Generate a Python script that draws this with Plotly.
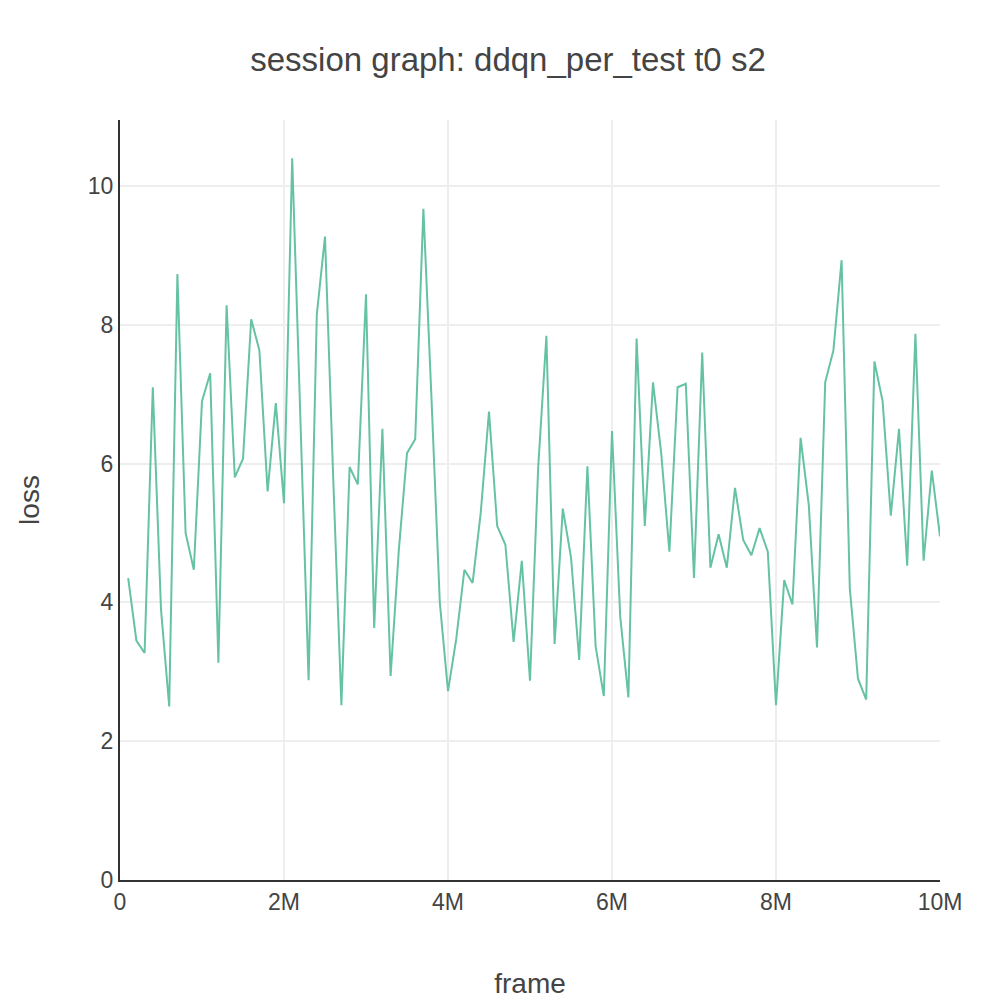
import plotly.graph_objects as go

frames = [i * 100000 for i in range(1, 101)]
loss = [4.35, 3.45, 3.27, 7.1, 3.9, 2.5, 8.73, 5.0, 4.47, 6.9,
        7.3, 3.13, 8.28, 5.8, 6.07, 8.08, 7.63, 5.6, 6.87, 5.43,
        10.4, 6.6, 2.88, 8.15, 9.27, 5.8, 2.52, 5.95, 5.7, 8.44,
        3.63, 6.5, 2.94, 4.75, 6.15, 6.35, 9.67, 6.9, 4.0, 2.72,
        3.47, 4.47, 4.28, 5.3, 6.75, 5.1, 4.83, 3.43, 4.6, 2.87,
        5.95, 7.84, 3.4, 5.35, 4.65, 3.17, 5.96, 3.37, 2.65, 6.47,
        3.8, 2.63, 7.8, 5.1, 7.17, 6.15, 4.73, 7.1, 7.15, 4.35,
        7.6, 4.5, 4.98, 4.5, 5.65, 4.9, 4.68, 5.07, 4.73, 2.52,
        4.32, 3.97, 6.37, 5.4, 3.35, 7.17, 7.63, 8.93, 4.2, 2.9,
        2.6, 7.47, 6.9, 5.25, 6.5, 4.53, 7.87, 4.6, 5.9, 4.95]

fig = go.Figure()
fig.add_trace(go.Scatter(x=frames, y=loss, mode="lines",
                         line=dict(color="#66c2a5", width=2)))
fig.update_layout(
    title=dict(text="session graph: ddqn_per_test t0 s2", x=0.5, y=0.96,
               xanchor="center", font=dict(size=33, color="#444")),
    font=dict(family="Liberation Sans, Arial", size=23, color="#444"),
    width=1000, height=1000,
    margin=dict(l=112, r=68, t=112, b=128),
    plot_bgcolor="white", paper_bgcolor="white",
    showlegend=False,
)
fig.update_xaxes(title=dict(text="frame", standoff=60, font=dict(size=28)),
                 range=[0, 10000000],
                 tickvals=[0, 2e6, 4e6, 6e6, 8e6, 10e6],
                 ticktext=["0", "2M", "4M", "6M", "8M", "10M"],
                 showgrid=True, gridcolor="#eee", gridwidth=2,
                 showline=True, linecolor="#333", linewidth=2, zeroline=False)
fig.update_yaxes(title=dict(text="loss", standoff=40, font=dict(size=28)),
                 range=[0, 10.95],
                 dtick=2, showgrid=True, gridcolor="#eee", gridwidth=2,
                 showline=True, linecolor="#333", linewidth=2, zeroline=False)
fig.write_html("out.html")
